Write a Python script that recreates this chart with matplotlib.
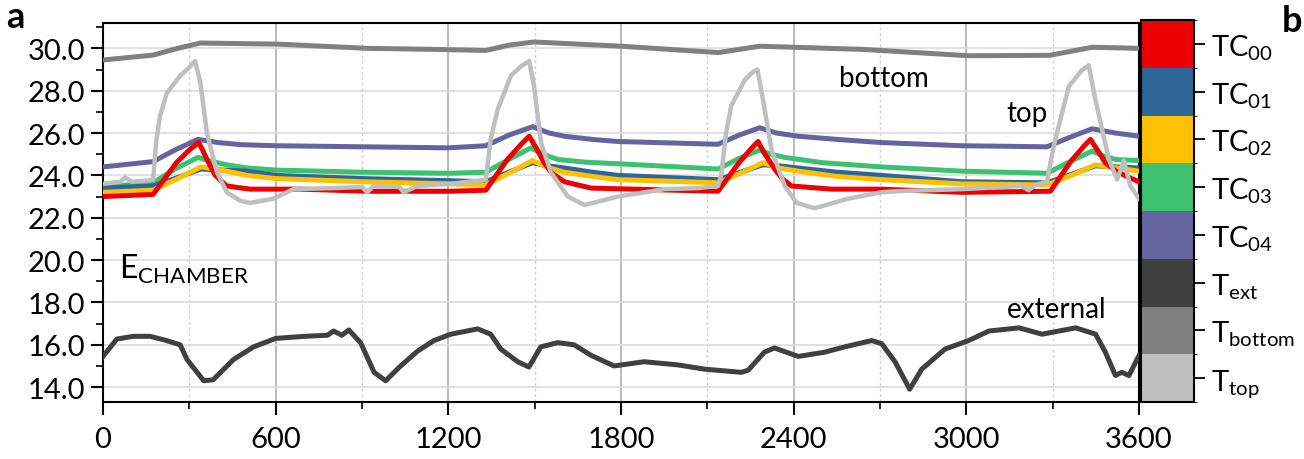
import numpy as np
import matplotlib
matplotlib.use("Agg")
import matplotlib.pyplot as plt
from matplotlib.colors import ListedColormap, BoundaryNorm
from matplotlib.cm import ScalarMappable
from matplotlib.ticker import MultipleLocator

plt.rcParams['font.family'] = ['Lato', 'DejaVu Sans']
plt.rcParams['mathtext.fontset'] = 'custom'
plt.rcParams['mathtext.rm'] = 'Lato'
plt.rcParams['mathtext.it'] = 'Lato:italic'
plt.rcParams['mathtext.bf'] = 'Lato:bold'

# ---- data ----
t_top = [0, 60, 77, 100, 150, 174, 185, 198, 222, 268, 300, 320, 338, 361, 396, 430, 477, 511, 592,
         662, 801, 900, 918, 940, 1030, 1045, 1092, 1208, 1330, 1347, 1371, 1417, 1452, 1481, 1498,
         1522, 1556, 1615, 1673, 1789, 1951, 2067, 2137, 2148, 2165, 2183, 2230, 2255, 2274, 2293,
         2323, 2369, 2410, 2473, 2589, 2705, 2752, 2984, 3193, 3216, 3240, 3280, 3295, 3309, 3356,
         3400, 3425, 3448, 3495, 3524, 3547, 3570, 3600]
v_top = [23.6, 23.7, 23.9, 23.7, 23.75, 23.8, 25.6, 26.8, 27.9, 28.7, 29.1, 29.4, 28.4, 26.0, 24.15,
         23.2, 22.8, 22.7, 22.9, 23.35, 23.4, 23.45, 23.2, 23.5, 23.45, 23.2, 23.5, 23.6, 23.8, 25.7,
         27.1, 28.7, 29.15, 29.4, 28.2, 25.55, 24.15, 23.0, 22.6, 23.0, 23.35, 23.4, 23.5, 24.0, 26.0,
         27.3, 28.5, 28.85, 29.0, 27.6, 25.2, 23.5, 22.7, 22.45, 22.9, 23.2, 23.25, 23.35, 23.5, 23.3,
         23.55, 23.7, 24.8, 25.7, 28.2, 28.95, 29.2, 27.6, 24.75, 23.8, 24.7, 23.5, 22.9]

t_tc04 = [0, 174, 250, 330, 400, 480, 600, 900, 1200, 1330, 1410, 1493, 1550, 1603, 1700, 1789, 2137,
          2210, 2282, 2340, 2415, 2550, 2705, 2984, 3280, 3360, 3437, 3518, 3600]
v_tc04 = [24.4, 24.65, 25.2, 25.7, 25.55, 25.45, 25.4, 25.35, 25.3, 25.4, 25.9, 26.3, 26.0, 25.85,
          25.7, 25.6, 25.47, 25.9, 26.25, 26.0, 25.85, 25.7, 25.55, 25.4, 25.35, 25.8, 26.2, 26.0, 25.85]

t_tc03 = [0, 174, 250, 330, 380, 430, 500, 600, 900, 1200, 1330, 1410, 1487, 1530, 1580, 1680, 1789,
          2137, 2210, 2282, 2320, 2369, 2500, 2705, 2984, 3280, 3360, 3437, 3480, 3518, 3600]
v_tc03 = [23.45, 23.65, 24.3, 24.85, 24.65, 24.5, 24.35, 24.25, 24.15, 24.1, 24.15, 24.75, 25.3, 25.0,
          24.75, 24.62, 24.55, 24.3, 24.8, 25.2, 25.0, 24.85, 24.6, 24.4, 24.2, 24.1, 24.65, 25.15,
          24.9, 24.75, 24.7]

t_tc01 = [0, 174, 260, 340, 420, 500, 600, 900, 1200, 1330, 1410, 1492, 1550, 1603, 1700, 1789, 2137,
          2215, 2293, 2350, 2415, 2550, 2705, 2984, 3280, 3365, 3448, 3520, 3600]
v_tc01 = [23.4, 23.5, 23.9, 24.3, 24.25, 24.2, 24.0, 23.85, 23.75, 23.7, 24.15, 24.6, 24.45, 24.35,
          24.15, 24.0, 23.8, 24.15, 24.5, 24.45, 24.35, 24.15, 24.0, 23.7, 23.65, 24.05, 24.45, 24.4,
          24.35]

t_tc02 = [0, 174, 260, 340, 390, 430, 500, 600, 900, 1200, 1330, 1410, 1492, 1550, 1603, 1700, 1789,
          2137, 2215, 2293, 2350, 2415, 2550, 2705, 2984, 3280, 3365, 3448, 3520, 3600]
v_tc02 = [23.2, 23.3, 23.85, 24.4, 24.3, 24.2, 24.0, 23.85, 23.7, 23.6, 23.55, 24.1, 24.7, 24.35,
          24.15, 23.95, 23.8, 23.65, 24.1, 24.6, 24.35, 24.2, 23.95, 23.8, 23.6, 23.55, 24.0, 24.5,
          24.35, 24.2]

t_tc00 = [0, 174, 255, 300, 332, 346, 361, 390, 430, 511, 686, 918, 1208, 1330, 1405, 1455, 1481,
          1505, 1533, 1560, 1603, 1696, 2137, 2210, 2255, 2276, 2300, 2334, 2360, 2392, 2531, 2705,
          2984, 3292, 3365, 3410, 3431, 3455, 3483, 3520, 3565, 3600]
v_tc00 = [23.0, 23.1, 24.6, 25.2, 25.55, 25.2, 24.75, 24.0, 23.5, 23.35, 23.35, 23.25, 23.25, 23.3,
          24.75, 25.5, 25.85, 25.3, 24.6, 24.1, 23.7, 23.4, 23.25, 24.6, 25.3, 25.6, 25.0, 24.3, 23.85,
          23.5, 23.35, 23.35, 23.2, 23.25, 24.7, 25.4, 25.7, 25.2, 24.6, 24.2, 23.9, 23.7]

t_bottom = [0, 174, 260, 338, 605, 918, 1150, 1330, 1410, 1497, 1800, 2138, 2282, 2640, 3008, 3290,
            3437, 3600]
v_bottom = [29.45, 29.68, 30.0, 30.25, 30.2, 30.0, 29.95, 29.9, 30.15, 30.3, 30.1, 29.8, 30.1, 29.95,
            29.65, 29.67, 30.05, 30.0]

t_ext = [0, 48, 105, 164, 220, 268, 292, 327, 350, 383, 453, 523, 600, 700, 780, 801, 830, 854, 895,
         942, 982, 1034, 1093, 1150, 1208, 1302, 1347, 1382, 1441, 1480, 1521, 1580, 1637, 1696, 1776,
         1880, 1998, 2089, 2218, 2242, 2298, 2333, 2416, 2507, 2577, 2671, 2706, 2752, 2803, 2845,
         2926, 3008, 3078, 3183, 3263, 3380, 3449, 3483, 3518, 3540, 3565, 3600]
v_ext = [15.45, 16.27, 16.4, 16.4, 16.2, 16.0, 15.3, 14.7, 14.3, 14.35, 15.3, 15.9, 16.3, 16.4, 16.45,
         16.65, 16.45, 16.7, 16.1, 14.7, 14.3, 15.0, 15.7, 16.2, 16.5, 16.75, 16.5, 15.8, 15.2, 14.95,
         15.9, 16.1, 16.0, 15.5, 15.0, 15.2, 15.05, 14.85, 14.7, 14.8, 15.65, 15.85, 15.45, 15.65, 15.9,
         16.2, 16.05, 15.2, 13.9, 14.85, 15.8, 16.2, 16.65, 16.8, 16.5, 16.8, 16.5, 15.65, 14.55, 14.7,
         14.55, 15.5]

legend_labels = [r'TC$_{\mathrm{00}}$', r'TC$_{\mathrm{01}}$', r'TC$_{\mathrm{02}}$', r'TC$_{\mathrm{03}}$',
                 r'TC$_{\mathrm{04}}$', r'T$_{\mathrm{ext}}$', r'T$_{\mathrm{bottom}}$', r'T$_{\mathrm{top}}$']
colors = ['#EE0000', '#2F6699', '#FFC000', '#3CC26E', '#6464A0', '#404040', '#808080', '#BFBFBF']

fig = plt.figure(figsize=(13.04, 4.6), dpi=100)
ax = fig.add_axes([0.079, 0.124, 0.7945, 0.824])

lw = 3.6
ax.plot(t_ext, v_ext, color=colors[5], lw=lw, zorder=3)
ax.plot(t_bottom, v_bottom, color=colors[6], lw=lw, zorder=3)
ax.plot(t_tc04, v_tc04, color=colors[4], lw=lw, zorder=3)
ax.plot(t_tc03, v_tc03, color=colors[3], lw=lw, zorder=3)
ax.plot(t_tc01, v_tc01, color=colors[1], lw=lw, zorder=3)
ax.plot(t_tc02, v_tc02, color=colors[2], lw=lw, zorder=3)
ax.plot(t_tc00, v_tc00, color=colors[0], lw=lw, zorder=3)
ax.plot(t_top, v_top, color=colors[7], lw=3.2, zorder=4)

ax.set_xlim(0, 3600)
ax.set_ylim(13.3, 31.2)
ax.xaxis.set_major_locator(MultipleLocator(600))
ax.xaxis.set_minor_locator(MultipleLocator(300))
ax.yaxis.set_minor_locator(MultipleLocator(1))
ax.set_yticks(np.arange(14, 31, 2))
ax.set_yticklabels([f'{v:.1f}' for v in np.arange(14, 31, 2)])
ax.tick_params(axis='both', which='major', labelsize=21, length=9, width=1.5, direction='out')
ax.tick_params(axis='both', which='minor', length=5, width=1.2, direction='out')
ax.tick_params(axis='x', pad=8)
ax.tick_params(axis='y', pad=4)

ax.grid(axis='y', which='major', color='#DCDCDC', lw=1.2, zorder=0)
ax.grid(axis='x', which='major', color='#A8A8A8', lw=1.1, zorder=0)
ax.grid(axis='x', which='minor', color='#D0D0D0', lw=1, ls=(0, (2, 2)), zorder=0)
for s in ax.spines.values():
    s.set_linewidth(1.5)

ax.text(2558, 28.6, 'bottom', fontsize=20, va='center')
ax.text(3140, 26.95, 'top', fontsize=20, va='center')
ax.text(3140, 17.7, 'external', fontsize=20, va='center')
ax.text(55, 19.6, r'E$_{\mathrm{CHAMBER}}$', fontsize=23, va='center')

# legend as colour bar
cax = fig.add_axes([0.875, 0.124, 0.0406, 0.830])
cmap = ListedColormap(colors[::-1])
norm = BoundaryNorm(np.arange(9), 8)
cb = fig.colorbar(ScalarMappable(norm=norm, cmap=cmap), cax=cax, ticks=np.arange(8) + 0.5)
cb.ax.set_yticklabels(legend_labels[::-1])
cb.ax.tick_params(labelsize=21, length=8, width=1.3, pad=4)
cb.outline.set_linewidth(1.5)

fig.text(0.005, 0.962, 'a', fontsize=26, fontweight='bold', va='center')
fig.text(0.983, 0.953, 'b', fontsize=26, fontweight='bold', va='center')

fig.savefig('out.png', dpi=100)
